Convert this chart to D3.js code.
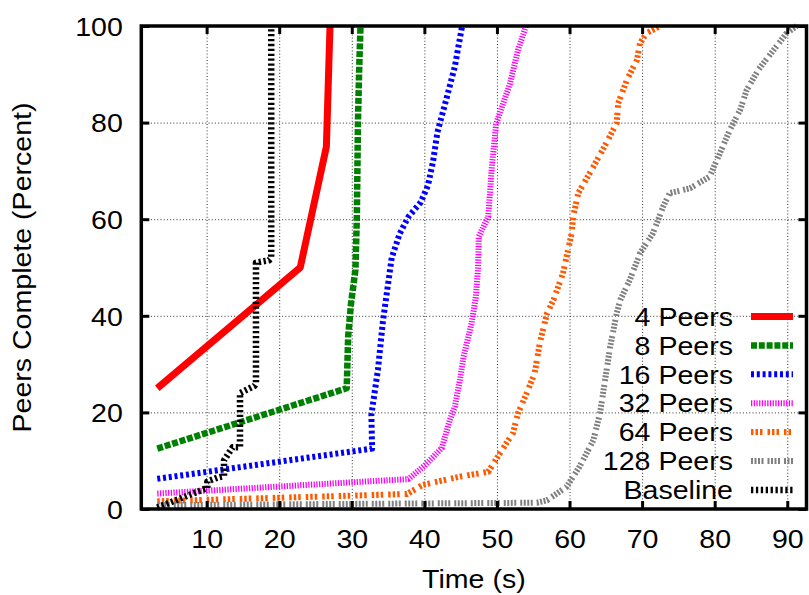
<!DOCTYPE html>
<html><head><meta charset="utf-8">
<script src="https://cdn.jsdelivr.net/npm/d3@7"></script>
<style>body{margin:0;background:#fff}svg{display:block}</style>
</head><body><svg id="c" width="809" height="595"></svg>
<script>
// ---------------- data ----------------
const xTicks = [10, 20, 30, 40, 50, 60, 70, 80, 90];
const yTicks = [0, 20, 40, 60, 80, 100];
const seriesNames = ["4 Peers", "8 Peers", "16 Peers", "32 Peers", "64 Peers", "128 Peers", "Baseline"];

const peers4 = [[3.2,25],[22.9,50],[26.5,75],[27,100]];
const peers8 = [[3.2,12.5],[29.3,25],[29.5,35.7],[29.9,42.6],[30.5,49.5],[30.6,55],[30.7,60.5],[30.85,80],[31.0,90],[31.2,100]];
const peers16 = [[3.2,6.25],[32.8,12.5],[32.7,19.5],[33.6,28.8],[34.3,39],[35.5,52],[36.6,57],[37.8,60.5],[39.5,63.5],[40.5,67],[41.2,72],[41.8,78],[43,84.7],[44.2,91.6],[45.2,100]];
const peers32 = [[3.2,3.2],[37.8,6.2],[40.1,9.1],[42.4,12.6],[43.5,18.4],[44.2,21.2],[44.9,26.7],[45.4,31.5],[46.5,38.4],[47.1,44],[47.4,50],[47.5,56.4],[48.8,60.5],[49.3,70.9],[49.9,79.8],[51.8,88.1],[52.9,95],[54,100]];
const peers64 = [[3.2,1.6],[37.6,3.1],[39.8,5],[44.9,6.7],[48.8,7.7],[50.4,11.5],[52.2,15.7],[52.9,19.8],[54.1,24],[55.2,28.1],[55.9,34.3],[56.9,40.5],[57.8,43.3],[59.1,48.8],[60.3,57.1],[60.5,60.5],[61.2,65.4],[63.3,70.9],[65.3,76.4],[66.5,79.9],[66.7,84],[67.9,88.8],[69.3,93],[69.7,96.4],[70.6,98.5],[72.5,100]];
const peers128 = [[3.2,0.8],[55.5,1.3],[56.9,1.8],[59.6,4.6],[61.4,8.8],[63.3,14.3],[64.2,19.8],[64.9,26.7],[65.6,33.6],[66.5,40.5],[67,43.3],[68.3,47.4],[69.7,52.9],[71.5,57.1],[72.9,62.6],[73.8,65.4],[76.6,66.4],[79.3,68.8],[80.7,73.6],[82.1,78.5],[83.5,82.6],[84.4,86.7],[86,90.9],[88.1,95],[89.9,98.5],[91.3,100]];
const baseline = [[3.2,0.3],[9.8,4.2],[10.1,4.3],[10.1,5.7],[11.5,6.5],[12.4,6.8],[12.4,10.1],[13.6,12.8],[14.6,12.8],[14.6,24],[16.6,25.5],[16.8,26],[16.8,51],[18.6,51.5],[18.9,52],[18.9,100]];

const seriesData = [peers4, peers8, peers16, peers32, peers64, peers128, baseline];

// ---------------- styles ----------------
const seriesColors = ["#ff0000", "#008000", "#0000ff", "#ff00ff", "#ff5a00", "#808080", "#000000"];
const seriesWidths = [7, 6.5, 6, 6, 6, 6, 6.5];
const seriesDash = ["none", "6,1.8", "3,2.8", "1.3,1.4", "2.5,2,2.5,2,2.5,5", "2,1.5,2,1.5,2,1.5,2,4", "2.3,2.6"];

const FONT = "'Liberation Sans', Arial, Helvetica, sans-serif";
const FS = 25.5, SX = 1.12;

const L = 141.3, R = 806.5, T = 26, B = 509;
const svg = d3.select("#c");
svg.append("rect").attr("width", 809).attr("height", 595).attr("fill", "#fff");

const x = d3.scaleLinear().domain([1, 92.65]).range([L, R]);
const y = d3.scaleLinear().domain([0, 100]).range([B, T]);

// grid
const gridX = svg.append("g").attr("transform", `translate(0,${B})`)
  .call(d3.axisBottom(x).tickValues(xTicks).tickSize(-(B - T)).tickFormat(""));
const gridY = svg.append("g").attr("transform", `translate(${L},0)`)
  .call(d3.axisLeft(y).tickValues(yTicks.filter(v => v > 0 && v < 100)).tickSize(-(R - L)).tickFormat(""));
[gridX, gridY].forEach(g => {
  g.select(".domain").remove();
  g.selectAll("line").attr("stroke", "#333").attr("stroke-width", 1).attr("stroke-dasharray", "1,2.2");
});

// curves
const line = d3.line().x(d => x(d[0])).y(d => y(d[1]));
seriesData.forEach((data, i) => {
  svg.append("path").datum(data)
    .attr("d", line)
    .attr("fill", "none")
    .attr("stroke", seriesColors[i])
    .attr("stroke-width", seriesWidths[i])
    .attr("stroke-dasharray", seriesDash[i])
    .attr("stroke-linejoin", "round")
    .attr("stroke-linecap", "butt");
});

// border
svg.append("rect").attr("x", L).attr("y", T).attr("width", R - L).attr("height", B - T)
  .attr("fill", "none").attr("stroke", "#000").attr("stroke-width", 3.5);

// ticks
function styleTicks(g) {
  g.select(".domain").remove();
  g.selectAll("line").attr("stroke", "#000").attr("stroke-width", 3);
}
const axB = svg.append("g").attr("transform", `translate(0,${B})`)
  .call(d3.axisBottom(x).tickValues(xTicks).tickSize(-8).tickSizeOuter(0).tickFormat(d3.format("d")));
styleTicks(axB);
axB.selectAll("text").attr("y", 39.3).attr("dy", 0)
  .attr("transform", `scale(${SX},1)`)
  .style("font-family", FONT).style("font-size", FS + "px").attr("fill", "#000");

const axT = svg.append("g").attr("transform", `translate(0,${T})`)
  .call(d3.axisTop(x).tickValues(xTicks).tickSize(-8).tickSizeOuter(0).tickFormat(""));
styleTicks(axT);

const axL = svg.append("g").attr("transform", `translate(${L},0)`)
  .call(d3.axisLeft(y).tickValues(yTicks).tickSize(-8).tickSizeOuter(0).tickFormat(d3.format("d")));
styleTicks(axL);
axL.selectAll("text").attr("x", -18.5 / SX).attr("dy", 0).attr("y", 9.3)
  .attr("transform", `scale(${SX},1)`)
  .style("font-family", FONT).style("font-size", FS + "px").attr("fill", "#000");

const axR = svg.append("g").attr("transform", `translate(${R},0)`)
  .call(d3.axisRight(y).tickValues(yTicks).tickSize(-8).tickSizeOuter(0).tickFormat(""));
styleTicks(axR);

// labels
function label(tx, txt, anchor) {
  svg.append("g").attr("transform", tx)
    .append("text").text(txt).attr("text-anchor", anchor || "middle")
    .style("font-family", FONT).style("font-size", FS + "px").attr("fill", "#000");
}
label(`translate(${(L + R) / 2},587.5) scale(${SX},1)`, "Time (s)");
label(`translate(31,${(T + B) / 2}) rotate(-90) scale(${SX},1)`, "Peers Complete (Percent)");

// legend
const legTextX = 733, legX1 = 751, legX2 = 793, legY0 = 316.5, legDY = 28.9;
seriesNames.forEach((name, i) => {
  const ly = legY0 + i * legDY;
  label(`translate(${legTextX},${ly + 9.2}) scale(${SX},1)`, name, "end");
  svg.append("line").attr("x1", legX1).attr("x2", legX2).attr("y1", ly).attr("y2", ly)
    .attr("stroke", seriesColors[i]).attr("stroke-width", seriesWidths[i])
    .attr("stroke-dasharray", seriesDash[i]).attr("stroke-linecap", "butt");
});
</script></body></html>
